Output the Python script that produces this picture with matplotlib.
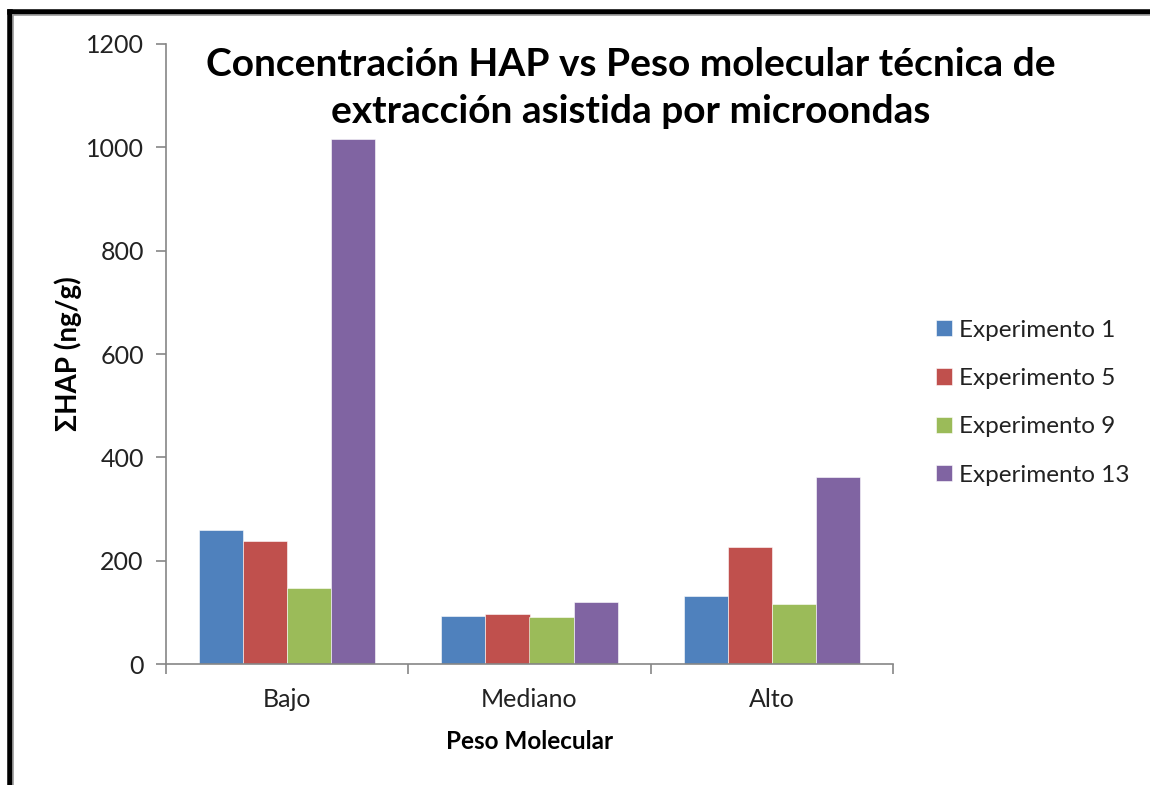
import matplotlib.pyplot as plt
import numpy as np
from matplotlib.lines import Line2D

plt.rcParams['font.family'] = ['Lato', 'DejaVu Sans']

categorias = ["Bajo", "Mediano", "Alto"]
series = ["Experimento 1", "Experimento 5", "Experimento 9", "Experimento 13"]
exp1 = [259, 93, 131]
exp5 = [239, 96, 227]
exp9 = [148, 91, 116]
exp13 = [1016, 120, 361]
colores = ["#4F81BD", "#C0504D", "#9BBB59", "#8064A2"]

W, H = 1150, 785
fig = plt.figure(figsize=(W / 100, H / 100), dpi=100)
ax = fig.add_axes([166 / W, 1 - 664 / H, (893 - 166) / W, (664 - 44) / H])

x = np.arange(len(categorias))
width = 1 / 5.5  # gap 150% like excel
valores = [exp1, exp5, exp9, exp13]
for i, (vals, c, nom) in enumerate(zip(valores, colores, series)):
    ax.bar(x + (i - 1.5) * width, vals, width, color=c, label=nom,
           edgecolor="white", linewidth=0.4)

ax.set_xlim(-0.5, 2.5)
ax.set_ylim(0, 1200)
ax.set_yticks(range(0, 1201, 200))
ax.set_xticks(x)
ax.set_xticklabels(categorias)
ax.set_xticks(np.arange(-0.5, 2.6, 1), minor=True)

for s in ["top", "right"]:
    ax.spines[s].set_visible(False)
for s in ["left", "bottom"]:
    ax.spines[s].set_color("#868686")
    ax.spines[s].set_linewidth(1.2)

ax.tick_params(axis="y", length=7, color="#868686", width=1.2,
               labelsize=18, labelcolor="#222222", pad=9)
ax.tick_params(axis="x", which="major", length=0, labelsize=18,
               labelcolor="#222222", pad=17)
ax.tick_params(axis="x", which="minor", length=7, color="#868686", width=1.2)

ax.set_ylabel("ΣHAP (ng/g)", fontsize=20, fontweight="bold", labelpad=3)
ax.set_xlabel("Peso Molecular", fontsize=17.5, fontweight="bold", labelpad=14)

fig.text(631 / W, 1 - 88 / H,
         "Concentración HAP vs Peso molecular técnica de\nextracción asistida por microondas",
         ha="center", va="center", fontsize=28, fontweight="bold",
         linespacing=1.42)

leg = ax.legend(loc="upper left", bbox_to_anchor=(914 / W, 1 - 298 / H),
                bbox_transform=fig.transFigure, frameon=False,
                fontsize=17.5, handlelength=0.65, handleheight=0.65,
                handletextpad=0.3, labelspacing=1.12)
for t in leg.get_texts():
    t.set_color("#222222")

# marco negro con linea gris interior
fig.add_artist(Line2D([9.5 / W, 9.5 / W], [0, 1 - 11.5 / H], color="black",
                      linewidth=4, transform=fig.transFigure))
fig.add_artist(Line2D([9.5 / W, 1], [1 - 11.5 / H, 1 - 11.5 / H], color="black",
                      linewidth=4, transform=fig.transFigure))
fig.add_artist(Line2D([13.5 / W, 13.5 / W], [0, 1 - 15 / H], color="#999999",
                      linewidth=1.2, transform=fig.transFigure))
fig.add_artist(Line2D([13.5 / W, 1], [1 - 15 / H, 1 - 15 / H], color="#999999",
                      linewidth=1.2, transform=fig.transFigure))

fig.savefig("out.png", dpi=100)
